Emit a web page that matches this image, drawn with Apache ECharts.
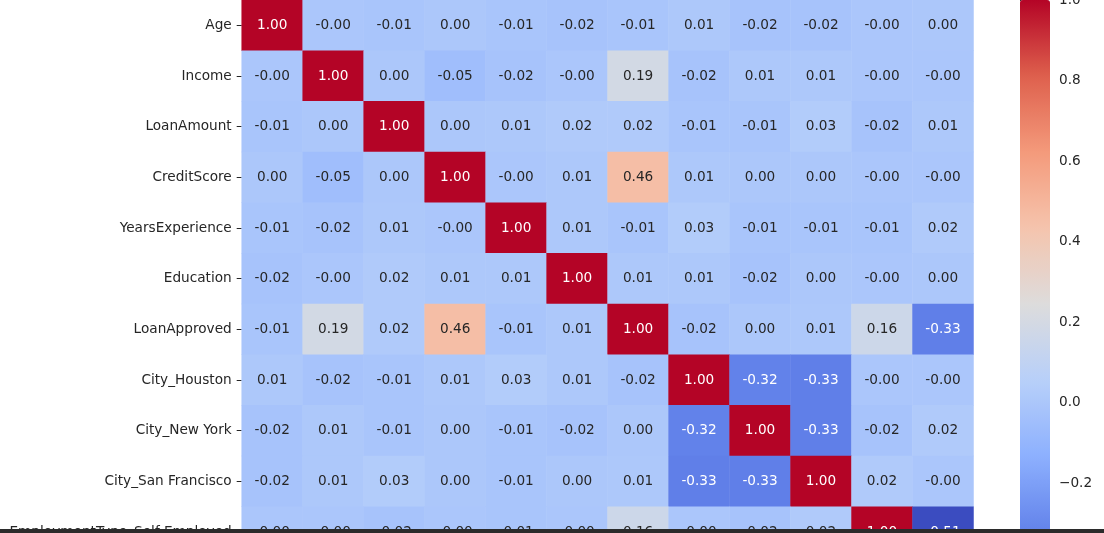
<!DOCTYPE html>
<html>
<head>
<meta charset="utf-8">
<script src="https://cdn.jsdelivr.net/npm/echarts@6/dist/echarts.min.js"></script>
<style>
html,body{margin:0;padding:0;background:#fff;}
#chart{width:1104px;height:533px;}
</style>
</head>
<body>
<div id="chart"></div>
<script>
const variables = ['Age','Income','LoanAmount','CreditScore','YearsExperience','Education','LoanApproved','City_Houston','City_New York','City_San Francisco','EmploymentType_Self-Employed','EmploymentType_Unemployed'];

// correlation rows (small signed values keep the "-0.00" / "0.00" labels)
const rowAge            = [1.00,-0.003,-0.01,0.003,-0.01,-0.02,-0.01,0.01,-0.02,-0.02,-0.003,0.003];
const rowIncome         = [-0.003,1.00,0.003,-0.05,-0.02,-0.003,0.19,-0.02,0.01,0.01,-0.003,-0.003];
const rowLoanAmount     = [-0.01,0.003,1.00,0.003,0.01,0.02,0.02,-0.01,-0.01,0.03,-0.02,0.01];
const rowCreditScore    = [0.003,-0.05,0.003,1.00,-0.003,0.01,0.46,0.01,0.003,0.003,-0.003,-0.003];
const rowYearsExp       = [-0.01,-0.02,0.01,-0.003,1.00,0.01,-0.01,0.03,-0.01,-0.01,-0.01,0.02];
const rowEducation      = [-0.02,-0.003,0.02,0.01,0.01,1.00,0.01,0.01,-0.02,0.003,-0.003,0.003];
const rowLoanApproved   = [-0.01,0.19,0.02,0.46,-0.01,0.01,1.00,-0.02,0.003,0.01,0.16,-0.33];
const rowHouston        = [0.01,-0.02,-0.01,0.01,0.03,0.01,-0.02,1.00,-0.32,-0.33,-0.003,-0.003];
const rowNewYork        = [-0.02,0.01,-0.01,0.003,-0.01,-0.02,0.003,-0.32,1.00,-0.33,-0.02,0.02];
const rowSanFrancisco   = [-0.02,0.01,0.03,0.003,-0.01,0.003,0.01,-0.33,-0.33,1.00,0.02,-0.003];
const rowSelfEmployed   = [-0.003,-0.003,-0.02,-0.003,-0.01,-0.003,0.16,-0.003,-0.02,0.02,1.00,-0.51];
const rowUnemployed     = [0.003,-0.003,0.01,-0.003,0.02,0.003,-0.33,-0.003,0.02,-0.003,-0.51,1.00];

const matrix = [rowAge,rowIncome,rowLoanAmount,rowCreditScore,rowYearsExp,rowEducation,rowLoanApproved,rowHouston,rowNewYork,rowSanFrancisco,rowSelfEmployed,rowUnemployed];

const colorbarTicks = [-0.6,-0.4,-0.2,0.0,0.2,0.4,0.6,0.8,1.0];
const vMin = -0.51, vMax = 1.0;

const coolwarm = ['#3b4cc0','#6282ea','#8db0fe','#b8d0f9','#dddcdc','#f5c4ad','#f49a7b','#de604d','#b40426'];

const heatData = [];
matrix.forEach((row, r) => row.forEach((v, c) => heatData.push([c, r, v])));

const FONT = 'DejaVu Sans';
const TXT = '#262626';
const FS = 13.65;

const chart = echarts.init(document.getElementById('chart'), null, {renderer:'canvas'});
chart.setOption({
  animation: false,
  backgroundColor: '#ffffff',
  grid: [
    {left: 241.7, top: 0, width: 731.8, height: 608, containLabel: false, outerBoundsMode: 'none'},
    {left: 1020, top: 0, width: 30, height: 644.2, containLabel: false, outerBoundsMode: 'none'}
  ],
  xAxis: [
    {type:'category', gridIndex:0, data: variables, position:'bottom',
     axisLine:{show:false}, splitLine:{show:false},
     axisTick:{show:true, length:5, lineStyle:{color:TXT}, alignWithLabel:true},
     axisLabel:{rotate:90, fontFamily:FONT, fontSize:FS, color:TXT, margin:10}},
    {type:'value', gridIndex:1, show:false, min:0, max:1}
  ],
  yAxis: [
    {type:'category', gridIndex:0, data: variables, inverse:true,
     axisLine:{show:false}, splitLine:{show:false},
     axisTick:{show:true, length:5, lineStyle:{color:TXT}, alignWithLabel:true},
     axisLabel:{fontFamily:FONT, fontSize:FS, color:TXT, margin:10}},
    {type:'value', gridIndex:1, position:'right', min:-0.6, max:1.0, interval:0.2,
     axisLine:{show:false}, splitLine:{show:false},
     axisTick:{show:true, length:5, lineStyle:{color:TXT}},
     axisLabel:{fontFamily:FONT, fontSize:FS, color:TXT, margin:9,
       formatter: v => { const s = Math.abs(v).toFixed(1); return (v < -1e-9 ? '\u2212' : '') + s; }}}
  ],
  visualMap: {
    type:'continuous', min:vMin, max:vMax, seriesIndex:0,
    orient:'vertical', left:1020, top:0, itemWidth:30, itemHeight:608,
    padding:0, calculable:false, realtime:false, hoverLink:false,
    text:null, showLabel:false,
    inRange:{color: coolwarm},
    textStyle:{color:'transparent'}
  },
  series: [{
    type:'heatmap', xAxisIndex:0, yAxisIndex:0, data: heatData,
    itemStyle:{borderWidth:0},
    emphasis:{disabled:true},
    label:{show:true,
      formatter: p => {
        const v = p.value[2];
        const s = v.toFixed(2);
        return (v >= 0.7 || v <= -0.25) ? '{w|' + s + '}' : '{d|' + s + '}';
      },
      rich:{
        w:{color:'#ffffff', fontFamily:FONT, fontSize:FS},
        d:{color:TXT, fontFamily:FONT, fontSize:FS}
      }
    }
  }],
  graphic: [{type:'rect', left:0, top:529, shape:{width:1104, height:4}, style:{fill:'#2b2b2b'}, z:100}]
});
</script>
</body>
</html>
